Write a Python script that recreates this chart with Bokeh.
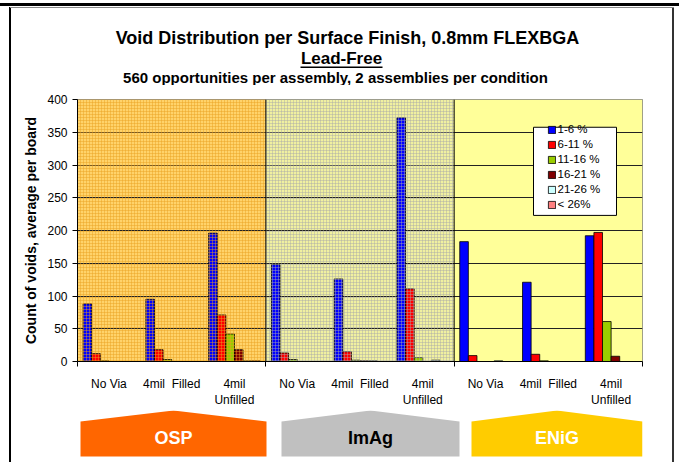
from bokeh.plotting import figure
from bokeh.layouts import column
from bokeh.models import (Range1d, FixedTicker, ColumnDataSource, Legend, LegendItem,
                          BoxAnnotation, Span)
from bokeh.core.properties import value
from bokeh.embed import file_html
from bokeh.resources import INLINE

# ---------------- data ----------------
finishes = ["OSP", "ImAg", "ENiG"]
conditions = ["No Via", "4mil\u00a0\u00a0Filled", "4mil\nUnfilled"]
bins = ["1-6 %", "6-11 %", "11-16 %", "16-21 %", "21-26 %", "< 26%"]
# order: OSP (No Via, 4mil Filled, 4mil Unfilled), ImAg (...), ENiG (...)
v_1_6 = [88, 95, 196, 148, 126, 372, 183, 121, 192]
v_6_11 = [12, 18, 71, 13, 15, 111, 9, 11, 197]
v_11_16 = [1, 3, 42, 3, 2, 6, 0, 1, 61]
v_16_21 = [0, 0, 18, 0, 1, 0, 0, 0, 8]
v_21_26 = [0, 0, 1, 0, 1, 2, 1, 0, 0]
v_lt_26 = [0, 0, 1, 0, 0, 0, 0, 0, 0]
y_ticks = [0, 50, 100, 150, 200, 250, 300, 350, 400]

title_text = "Void Distribution per Surface Finish, 0.8mm FLEXBGA"
subtitle1 = "Lead-Free"
subtitle2 = "560 opportunities per assembly, 2 assemblies per condition"
y_label = "Count of voids, average per board"

# ---------------- styles ----------------
FONT = "Liberation Sans"
bin_colors = ["#0000FF", "#FF0000", "#99CC00", "#800000", "#CCFFFF", "#FF8080"]
finish_bg = ["#FFD36A", "#F0F0A0", "#FFFF99"]
finish_tex = ["#E8A020", "#A8A8A8", None]
badge_fill = ["#FF6600", "#C0C0C0", "#FFCC00"]
badge_text = ["white", "black", "white"]

W = 679
T_H, M_H, B_H = 85, 325, 52          # heights of title strip, chart, badge strip
ML, MR, MT, MB = 77, 37, 14, 42      # chart borders
FW, FH = W - ML - MR, M_H - MT - MB
ncat = len(conditions)
nx = len(finishes) * ncat
ymax = y_ticks[-1]
M_TOP = T_H


def dx(sx):
    """page pixel x -> chart data x"""
    return (sx - ML) * nx / FW


def dy(sy):
    """page pixel y -> chart data y"""
    return (M_TOP + MT + FH - sy) * ymax / FH


def deco_fig(h, y_top):
    # frame aligned with the chart frame; data units = page pixels
    f = figure(width=W, height=h, output_backend="svg", toolbar_location=None,
               x_range=Range1d(ML, W - MR), y_range=Range1d(y_top + h, y_top),
               min_border_left=ML, min_border_right=MR, min_border_top=0,
               min_border_bottom=0, x_axis_location=None, y_axis_location=None,
               border_fill_alpha=0, background_fill_alpha=0, outline_line_color=None)
    f.grid.visible = False
    return f


# ---------------- title strip ----------------
t = deco_fig(T_H, 0)
for txt, sx, sy, size in [(title_text, 347, 37, "18px"), (subtitle1, 341, 58, "17px"),
                          (subtitle2, 335, 77, "15px")]:
    t.text(x=[sx], y=[sy], text=[txt], text_align="center", text_baseline="middle",
           text_font=value(FONT), text_font_size=value(size), text_font_style="bold",
           text_color="black")
t.quad(left=[300], right=[382], top=[66], bottom=[67.5], fill_color="black", line_color=None)

# ---------------- main chart ----------------
p = figure(width=W, height=M_H, output_backend="svg", toolbar_location=None,
           x_range=Range1d(0, nx), y_range=Range1d(y_ticks[0], ymax),
           min_border_left=ML, min_border_right=MR, min_border_top=MT,
           min_border_bottom=MB, background_fill_color="white",
           border_fill_alpha=0, outline_line_color="#808080")

for i, f in enumerate(finishes):
    p.quad(left=i * ncat, right=(i + 1) * ncat, bottom=y_ticks[0], top=ymax,
           fill_color=finish_bg[i], line_color=None, level="image")

series = [v_1_6, v_6_11, v_11_16, v_16_21, v_21_26, v_lt_26]
nb = len(bins)
bw = 0.137
renderers = []
for j, vals in enumerate(series):
    xs = [k + 0.5 + (j - (nb - 1) / 2) * bw for k in range(len(vals))]
    src = ColumnDataSource(dict(x=xs, top=vals))
    r = p.vbar(x="x", top="top", bottom=0, width=bw, source=src,
               fill_color=bin_colors[j], line_color="black", line_width=0.8)
    renderers.append(r)

for i, tex in enumerate(finish_tex):
    if tex is None:
        continue
    p.quad(left=i * ncat, right=(i + 1) * ncat, bottom=y_ticks[0], top=ymax,
           fill_alpha=0, line_color=None, hatch_pattern="+", hatch_color=tex,
           hatch_alpha=0.45, hatch_scale=3, hatch_weight=1)

for i in range(1, len(finishes)):
    p.add_layout(Span(location=i * ncat, dimension="height",
                      line_color="black", line_width=1))

p.xgrid.visible = False
p.ygrid.grid_line_color = "#222222"
p.ygrid.grid_line_width = 1

p.yaxis.ticker = FixedTicker(ticks=y_ticks)
p.yaxis.axis_label = y_label
p.yaxis.axis_label_text_font = FONT
p.yaxis.axis_label_text_font_style = "bold"
p.yaxis.axis_label_text_font_size = "14px"
p.yaxis.axis_label_text_color = "black"
p.yaxis.axis_label_standoff = 5
p.yaxis.major_label_text_font = FONT
p.yaxis.major_label_text_font_size = "12px"
p.yaxis.major_label_text_color = "black"
p.yaxis.major_tick_out = 5
p.yaxis.major_tick_in = 0
p.yaxis.minor_tick_line_color = None
p.yaxis.axis_line_color = "black"

centers = [k + 0.5 for k in range(nx)]
p.xaxis.ticker = FixedTicker(ticks=centers,
                             minor_ticks=[i * ncat for i in range(len(finishes) + 1)])
p.xaxis.major_label_overrides = {c: conditions[k % ncat] for k, c in enumerate(centers)}
p.xaxis.major_tick_line_color = None
p.xaxis.major_tick_out = 0
p.xaxis.major_tick_in = 0
p.xaxis.minor_tick_out = 5
p.xaxis.minor_tick_in = 0
p.xaxis.minor_tick_line_color = "black"
p.xaxis.major_label_standoff = 10
p.xaxis.major_label_text_font = FONT
p.xaxis.major_label_text_font_size = "12px"
p.xaxis.major_label_text_color = "black"
p.xaxis.axis_line_color = "black"

p.add_layout(BoxAnnotation(left=dx(533), right=dx(616), top=dy(127.5), bottom=dy(218),
                           fill_color="white", fill_alpha=1, line_color="black",
                           line_width=1, line_dash="solid", line_alpha=1))
legend = Legend(items=[LegendItem(label=b, renderers=[renderers[j]]) for j, b in enumerate(bins)],
                location=(546.5 - ML, (M_TOP + MT + FH) - 218),
                glyph_width=9, glyph_height=9, label_height=14, spacing=1,
                padding=0, margin=0, label_standoff=2,
                label_text_font=FONT, label_text_font_size="11.5px",
                label_text_color="black",
                border_line_color=None, background_fill_alpha=0)
p.add_layout(legend)

# ---------------- badge strip ----------------
b = deco_fig(B_H, T_H + M_H)
badge_l = [80, 281, 471]
badge_r = [266, 459, 642]
mids = [(l + r) / 2 for l, r in zip(badge_l, badge_r)]
b.patches(xs=[[l, l, m, r, r] for l, m, r in zip(badge_l, mids, badge_r)],
          ys=[[456, 421, 410, 421, 456] for _ in finishes],
          fill_color=badge_fill, line_color=None)
b.text(x=mids, y=[437] * len(finishes), text=finishes, text_align="center",
       text_baseline="middle", text_font=value(FONT), text_font_size=value("18px"),
       text_font_style="bold", text_color=badge_text)

frame_css = ("linear-gradient(#000,#000) 0 3px / 100% 3px no-repeat,"
             "linear-gradient(#888,#888) 10px 7px / 664px 1px no-repeat,"
             "linear-gradient(#000,#000) 9px 7px / 2px 100% no-repeat,"
             "linear-gradient(#333,#333) 672px 7px / 2px 100% no-repeat,"
             "#ffffff")
layout = column(t, p, b, spacing=0, styles={"background": frame_css})

open("out.html", "w").write(file_html(layout, INLINE))
